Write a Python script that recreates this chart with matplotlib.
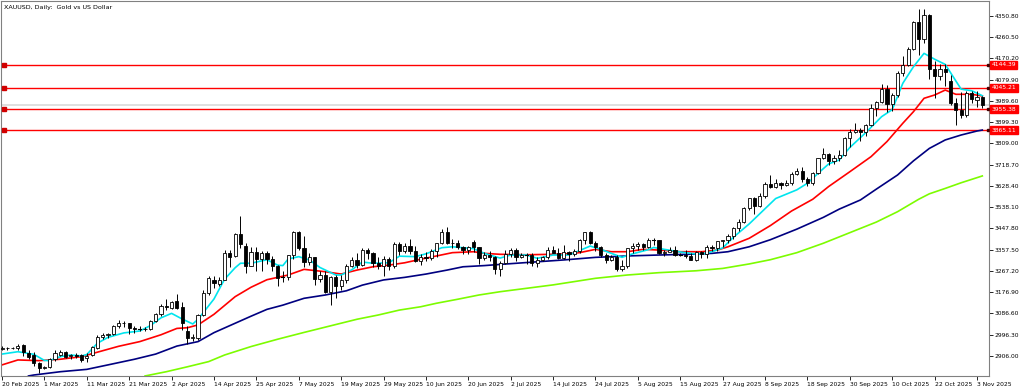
import matplotlib
matplotlib.use("Agg")
import matplotlib.pyplot as plt
from matplotlib.patches import Rectangle

# ---------------- data ----------------
opens = [2937, 2940, 2938, 2939, 2952, 2917, 2910, 2875, 2855, 2860,
         2893, 2912, 2924, 2905, 2910, 2910, 2898, 2908, 2940, 2988,
         2993, 3000, 3033, 3047, 3045, 3023, 3020, 3019, 3022, 3056,
         3086, 3120, 3110, 3140, 3112, 3012, 2982, 2982, 3082, 3175,
         3228, 3212, 3230, 3345, 3330, 3424, 3375, 3290, 3349, 3318,
         3343, 3316, 3288, 3239, 3240, 3334, 3431, 3365, 3306, 3325,
         3235, 3249, 3178, 3240, 3202, 3229, 3289, 3314, 3294, 3357,
         3342, 3300, 3288, 3318, 3289, 3381, 3353, 3373, 3352, 3310,
         3326, 3322, 3354, 3386, 3432, 3385, 3388, 3369, 3355, 3390,
         3368, 3323, 3333, 3328, 3274, 3303, 3338, 3357, 3326, 3337,
         3336, 3302, 3313, 3325, 3355, 3343, 3324, 3347, 3338, 3350,
         3397, 3431, 3387, 3368, 3337, 3314, 3326, 3274, 3289, 3363,
         3373, 3380, 3368, 3397, 3398, 3342, 3348, 3356, 3335, 3336,
         3332, 3315, 3347, 3339, 3371, 3365, 3393, 3397, 3416, 3448,
         3476, 3533, 3578, 3545, 3586, 3636, 3626, 3641, 3634, 3643,
         3679, 3690, 3659, 3643, 3685, 3747, 3763, 3736, 3749, 3759,
         3834, 3858, 3866, 3857, 3886, 3961, 3985, 4040, 3975, 4017,
         4110, 4142, 4209, 4326, 4251, 4356, 4125, 4094, 4126, 4075,
         3981, 3951, 3930, 4023, 3992, 4006]
highs = [2948, 2946, 2943, 2956, 2956, 2930, 2922, 2880, 2862, 2897,
         2930, 2930, 2928, 2915, 2918, 2914, 2920, 2948, 2993, 3005,
         3003, 3038, 3057, 3055, 3048, 3035, 3033, 3030, 3060, 3087,
         3128, 3149, 3140, 3168, 3135, 3033, 3000, 3085, 3185, 3245,
         3245, 3240, 3358, 3357, 3430, 3500, 3386, 3367, 3371, 3350,
         3353, 3329, 3292, 3269, 3337, 3437, 3435, 3415, 3345, 3328,
         3266, 3265, 3245, 3252, 3250, 3295, 3325, 3345, 3366, 3364,
         3347, 3325, 3330, 3325, 3392, 3392, 3385, 3403, 3375, 3338,
         3349, 3360, 3388, 3446, 3452, 3403, 3399, 3375, 3375, 3398,
         3370, 3348, 3350, 3330, 3310, 3358, 3365, 3366, 3344, 3342,
         3345, 3325, 3330, 3369, 3375, 3366, 3377, 3352, 3361, 3402,
         3433, 3438, 3393, 3373, 3345, 3334, 3334, 3315, 3363, 3385,
         3390, 3385, 3409, 3409, 3400, 3358, 3369, 3375, 3344, 3358,
         3345, 3350, 3351, 3379, 3376, 3394, 3398, 3423, 3453, 3490,
         3540, 3578, 3580, 3600, 3647, 3674, 3656, 3645, 3655, 3686,
         3703, 3707, 3666, 3689, 3749, 3791, 3769, 3760, 3783, 3836,
         3872, 3895, 3876, 3890, 3975, 3990, 4060, 4058, 4022, 4117,
         4179, 4218, 4330, 4380, 4381, 4360, 4161, 4147, 4145, 4098,
         4003, 4028, 4030, 4034, 4030, 4010]
lows = [2930, 2933, 2934, 2930, 2905, 2895, 2865, 2832, 2850, 2855,
        2885, 2905, 2896, 2895, 2898, 2880, 2880, 2905, 2935, 2979,
        2982, 2995, 3025, 3030, 3000, 3005, 3012, 3010, 3015, 3052,
        3076, 3100, 3105, 3105, 3015, 2957, 2970, 2975, 3075, 3165,
        3193, 3205, 3228, 3284, 3325, 3366, 3260, 3287, 3265, 3268,
        3298, 3267, 3202, 3221, 3230, 3320, 3358, 3285, 3294, 3208,
        3221, 3172, 3121, 3154, 3185, 3216, 3283, 3278, 3287, 3320,
        3285, 3276, 3245, 3271, 3280, 3333, 3343, 3338, 3307, 3293,
        3311, 3313, 3325, 3380, 3382, 3366, 3362, 3341, 3340, 3348,
        3295, 3312, 3310, 3255, 3246, 3297, 3328, 3311, 3322, 3296,
        3287, 3282, 3310, 3320, 3342, 3320, 3319, 3310, 3332, 3345,
        3383, 3382, 3351, 3325, 3301, 3308, 3268, 3268, 3281, 3345,
        3358, 3357, 3365, 3377, 3341, 3331, 3347, 3330, 3330, 3323,
        3313, 3311, 3322, 3322, 3351, 3352, 3368, 3385, 3404, 3436,
        3471, 3526, 3511, 3539, 3578, 3619, 3621, 3615, 3630, 3634,
        3675, 3646, 3627, 3633, 3680, 3741, 3718, 3722, 3734, 3757,
        3793, 3852, 3821, 3842, 3884, 3926, 3981, 3944, 3947, 4008,
        4096, 4140, 4206, 4185, 4237, 4082, 4004, 4077, 4054, 3971,
        3886, 3916, 3922, 3980, 3962, 3960]
closes = [2940, 2938, 2940, 2950, 2922, 2903, 2875, 2856, 2857, 2892,
          2918, 2924, 2903, 2910, 2907, 2889, 2906, 2945, 2988, 2993,
          2998, 3032, 3047, 3044, 3023, 3021, 3019, 3022, 3056, 3084,
          3118, 3116, 3135, 3110, 3045, 2982, 2985, 3080, 3175, 3237,
          3215, 3230, 3345, 3327, 3424, 3381, 3290, 3349, 3318, 3343,
          3316, 3288, 3239, 3240, 3334, 3431, 3365, 3306, 3325, 3235,
          3249, 3178, 3240, 3202, 3229, 3289, 3314, 3294, 3357, 3342,
          3300, 3288, 3318, 3289, 3381, 3353, 3373, 3352, 3310, 3326,
          3322, 3354, 3386, 3432, 3385, 3388, 3369, 3355, 3368, 3368,
          3323, 3333, 3328, 3274, 3303, 3338, 3357, 3326, 3337, 3336,
          3302, 3313, 3325, 3355, 3343, 3324, 3347, 3338, 3350, 3397,
          3431, 3387, 3368, 3337, 3314, 3326, 3274, 3289, 3363, 3373,
          3380, 3368, 3397, 3398, 3342, 3348, 3356, 3335, 3336, 3332,
          3315, 3347, 3339, 3371, 3365, 3393, 3397, 3416, 3448, 3476,
          3533, 3578, 3545, 3586, 3636, 3626, 3641, 3634, 3643, 3679,
          3690, 3659, 3643, 3685, 3747, 3763, 3736, 3749, 3759, 3834,
          3858, 3866, 3857, 3886, 3961, 3985, 4040, 3975, 4017, 4110,
          4142, 4209, 4326, 4251, 4356, 4125, 4094, 4126, 4112, 3981,
          3951, 3930, 4022, 4000, 4006, 3972]

date_labels = ["20 Feb 2025", "1 Mar 2025", "11 Mar 2025", "21 Mar 2025",
               "2 Apr 2025", "14 Apr 2025", "25 Apr 2025", "7 May 2025",
               "19 May 2025", "29 May 2025", "10 Jun 2025", "20 Jun 2025",
               "2 Jul 2025", "14 Jul 2025", "24 Jul 2025", "5 Aug 2025",
               "15 Aug 2025", "27 Aug 2025", "8 Sep 2025", "18 Sep 2025",
               "30 Sep 2025", "10 Oct 2025", "22 Oct 2025", "3 Nov 2025"]
date_label_bars = [0, 8, 16, 24, 32, 40, 48, 56, 64, 72, 80, 88, 96, 104,
                   112, 120, 128, 136, 144, 152, 160, 168, 176, 184]

price_ticks = [2906.00, 2996.30, 3086.60, 3176.90, 3267.20, 3357.50,
               3447.80, 3538.10, 3628.40, 3718.70, 3809.00, 3899.30,
               3989.60, 4079.90, 4170.20, 4260.50, 4350.80]

levels = [4144.39, 4045.21, 3955.38, 3865.11]
bid_price = 3972.0

# moving averages (bar index, value)
fast_idx = [0, 3, 6, 8, 9, 11, 13, 15, 16, 18, 20, 23, 26, 28, 30, 32, 34,
            36, 37, 40, 42, 44, 45, 47, 50, 52, 53, 54, 56, 58, 60, 63, 64,
            66, 68, 70, 73, 75, 78, 80, 83, 85, 89, 91, 94, 96, 99, 101,
            104, 107, 109, 111, 113, 115, 117, 119, 122, 123, 125, 128,
            131, 133, 136, 138, 141, 146, 150, 152, 154, 156, 158, 160,
            163, 166, 168, 170, 172, 174, 176, 178, 180, 181, 183, 185]
fast_val = [2914, 2924, 2913, 2887, 2886, 2903, 2910, 2906, 2912, 2960,
            2985, 3004, 3012, 3035, 3068, 3087, 3063, 3042, 3062, 3148,
            3232, 3281, 3300, 3300, 3315, 3292, 3290, 3318, 3328, 3314,
            3282, 3250, 3250, 3272, 3305, 3300, 3302, 3330, 3328, 3340,
            3366, 3370, 3362, 3342, 3322, 3335, 3335, 3321, 3335, 3335,
            3354, 3373, 3359, 3342, 3325, 3340, 3358, 3367, 3359, 3348,
            3339, 3342, 3365, 3410, 3467, 3575, 3612, 3640, 3682, 3722,
            3739, 3792, 3855, 3923, 3953, 4065, 4135, 4192, 4167, 4145,
            4075, 4040, 4033, 4012]

mid_idx = [0, 3, 7, 11, 15, 18, 22, 26, 30, 33, 35, 37, 40, 44, 47, 50, 52,
           54, 57, 61, 64, 67, 70, 73, 76, 79, 82, 85, 89, 91, 94, 99, 106,
           109, 112, 115, 118, 121, 124, 128, 132, 135, 137, 141, 145, 149,
           153, 156, 160, 164, 167, 170, 172, 174, 176, 178, 180, 183, 185]
mid_val = [2868, 2889, 2886, 2892, 2903, 2922, 2947, 2967, 2996, 3023,
           3026, 3038, 3083, 3158, 3198, 3230, 3240, 3250, 3274, 3264,
           3254, 3271, 3285, 3292, 3302, 3317, 3331, 3345, 3349, 3342,
           3338, 3336, 3339, 3345, 3359, 3349, 3349, 3359, 3356, 3349,
           3349, 3356, 3370, 3406, 3460, 3522, 3572, 3626, 3689, 3753,
           3817, 3895, 3944, 4001, 4015, 4036, 4018, 4018, 4011]

slow_idx = [5, 6, 11, 16, 20, 25, 29, 33, 37, 40, 44, 47, 50, 53, 57, 61,
            65, 68, 72, 76, 80, 84, 87, 91, 94, 99, 106, 112, 118, 124, 131,
            134, 137, 141, 145, 150, 155, 158, 162, 165, 169, 172, 175, 178,
            181, 184, 185]
slow_val = [2821, 2825, 2839, 2849, 2868, 2892, 2914, 2948, 2967, 3005,
            3045, 3075, 3104, 3122, 3151, 3165, 3183, 3207, 3229, 3240,
            3254, 3271, 3285, 3290, 3295, 3303, 3314, 3325, 3331, 3335,
            3339, 3342, 3349, 3370, 3400, 3445, 3495, 3530, 3569, 3615,
            3675, 3735, 3788, 3824, 3845, 3862, 3866]

long_idx = [27, 31, 35, 39, 42, 47, 52, 57, 62, 67, 71, 75, 79, 82, 86, 90,
            94, 104, 108, 112, 118, 124, 131, 136, 141, 145, 150, 155, 160,
            165, 169, 173, 175, 178, 181, 185]
long_val = [2821, 2839, 2860, 2882, 2910, 2946, 2977, 3006, 3034, 3062,
            3080, 3101, 3115, 3130, 3147, 3165, 3179, 3208, 3222, 3236,
            3250, 3260, 3268, 3278, 3297, 3315, 3345, 3385, 3430, 3475,
            3519, 3572, 3595, 3618, 3642, 3671]

title_text = "XAUUSD, Daily:  Gold vs US Dollar"

# ---------------- figure ----------------
W, H = 1024, 391
fig = plt.figure(figsize=(W / 100, H / 100), dpi=100)
fig.patch.set_facecolor("white")
ax = fig.add_axes([1 / W, 15 / H, 988 / W, 375 / H])
ax.set_facecolor("white")

FONT = "DejaVu Sans"
FS = 4.3

# horizontal level lines (under the candles)
ax.axhline(bid_price, color="#dcdcdc", lw=1.3, zorder=1)
for lv in levels:
    ax.axhline(lv, color="#ff0000", lw=2.2, alpha=0.15, zorder=1)
    ax.axhline(lv, color="#ff0000", lw=0.8, zorder=1.1)

# moving averages
ax.plot(long_idx, long_val, color="#7cfc00", lw=1.2, zorder=2)
ax.plot(slow_idx, slow_val, color="#000080", lw=1.2, zorder=2)
ax.plot(mid_idx, mid_val, color="#ff0000", lw=1.2, zorder=2)
ax.plot(fast_idx, fast_val, color="#00e5ee", lw=1.2, zorder=2)

# candles
bw = 0.6
for i, (o, h, l, c) in enumerate(zip(opens, highs, lows, closes)):
    ax.plot([i, i], [l, h], color="black", lw=0.7, zorder=3,
            solid_capstyle="butt")
    bottom = min(o, c)
    height = abs(c - o)
    if height < 1.5:
        ax.plot([i - bw / 2, i + bw / 2], [c, c], color="black", lw=0.8,
                zorder=4)
    else:
        fc = "white" if c > o else "black"
        ax.add_patch(Rectangle((i - bw / 2, bottom), bw, height,
                               facecolor=fc, edgecolor="black", lw=0.6,
                               zorder=4))

ax.set_xlim(-0.19, 186.26)
ax.set_ylim(2820.8, 4414.5)

# right price axis
ax.yaxis.tick_right()
ax.set_yticks(price_ticks)
ax.set_yticklabels([f"{p:.2f}" for p in price_ticks], fontsize=FS,
                   family=FONT, color="black")
ax.tick_params(axis="y", direction="out", length=3, width=0.6, pad=1,
               colors="black")

# bottom date axis
ax.set_xticks(date_label_bars)
ax.set_xticklabels(date_labels, fontsize=FS, family=FONT, ha="left")
ax.tick_params(axis="x", direction="out", length=3, width=0.6, pad=1.5)

for side in ["left", "top", "right", "bottom"]:
    ax.spines[side].set_color("#808080")
    ax.spines[side].set_linewidth(0.8)

# level labels on the price axis + end markers
ytr = ax.get_yaxis_transform()
for lv in levels:
    ax.text(1.0025, lv, f"{lv:.2f}", transform=ytr, fontsize=FS,
            family=FONT, color="white", va="center", ha="left",
            bbox=dict(boxstyle="square,pad=0.25", facecolor="#ff0000",
                      edgecolor="#ff0000"), zorder=10, clip_on=False)
    ax.plot([0.003], [lv], marker="s", ms=2.2, color="#d00000",
            transform=ytr, zorder=6, clip_on=False)
    ax.plot([0.9985], [lv], marker="s", ms=2.0, color="#400000",
            transform=ytr, zorder=6, clip_on=False)

fig.text(4 / W, 1 - 8 / H, title_text, fontsize=FS + 0.3, family=FONT,
         va="center", ha="left", color="black")

fig.savefig("out.png", dpi=100, facecolor="white")
